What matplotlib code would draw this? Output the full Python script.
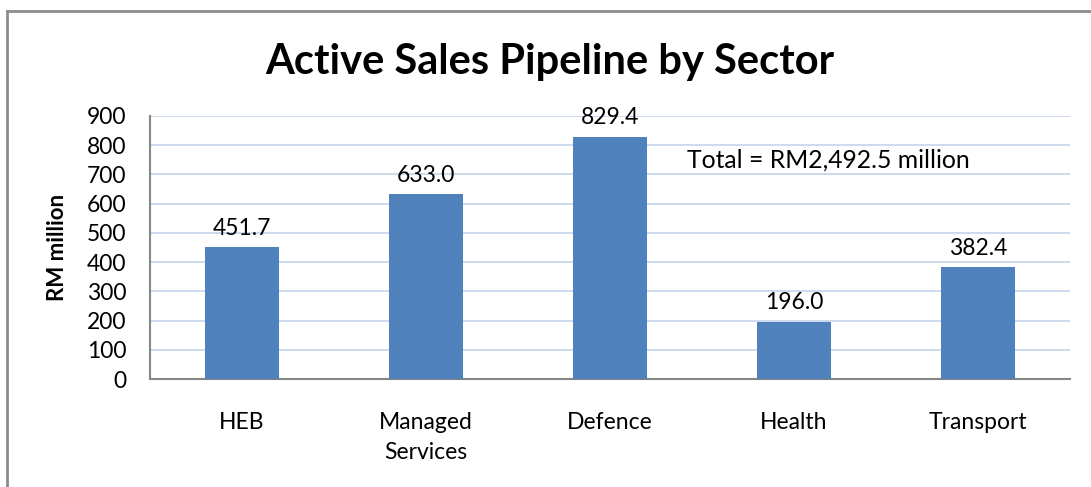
import numpy as np
import matplotlib.pyplot as plt
from matplotlib.lines import Line2D

# Chart data
sectors = ['HEB', 'Managed\nServices', 'Defence', 'Health', 'Transport']
pipeline = [451.7, 633.0, 829.4, 196.0, 382.4]
yticks = [0, 100, 200, 300, 400, 500, 600, 700, 800, 900]
total_text = 'Total = RM2,492.5 million'

plt.rcParams['font.family'] = ['Lato', 'DejaVu Sans']

W, H = 1091, 487
fig = plt.figure(figsize=(W / 100, H / 100), dpi=100)
ax = fig.add_axes([150 / W, 1 - 379 / H, 920 / W, 263 / H])

x = np.arange(len(sectors))
ax.bar(x, pipeline, width=0.4, color='#4F81BD', zorder=3)

# Value labels above bars
for xi, v in zip(x, pipeline):
    ax.annotate('{:.1f}'.format(v), (xi, v), xytext=(0, 6), textcoords='offset points',
                ha='center', va='bottom', fontsize=16.5, color='black')

ax.text(2.42, 750, total_text, ha='left', va='center', fontsize=17.8, color='black')

ax.set_xlim(-0.5, len(sectors) - 0.5)
ax.set_ylim(0, 900)
ax.set_yticks(yticks)
ax.set_xticks(x)
ax.set_xticklabels(sectors, fontsize=16.5, linespacing=1.5)
ax.tick_params(axis='y', labelsize=16.5, length=0, pad=17)
ax.tick_params(axis='x', length=0, pad=24)
ax.grid(axis='y', color='#C5D3EA', linewidth=1.2, zorder=0)

for s in ['top', 'right']:
    ax.spines[s].set_visible(False)
for s in ['left', 'bottom']:
    ax.spines[s].set_color('#868686')
    ax.spines[s].set_linewidth(1.5)

ax.set_ylabel('RM million', fontsize=16, fontweight='bold')
ax.yaxis.set_label_coords(-(150 - 68) / 920, 0.5)

fig.text(550 / W, 1 - 62 / H, 'Active Sales Pipeline by Sector', ha='center', va='center',
         fontsize=30, fontweight='bold')

# Outer chart border (top and left visible)
fig.add_artist(Line2D([7 / W, 1], [1 - 11 / H, 1 - 11 / H], transform=fig.transFigure,
                      color='#8C8C8C', linewidth=2))
fig.add_artist(Line2D([7 / W, 7 / W], [0, 1 - 11 / H], transform=fig.transFigure,
                      color='#8C8C8C', linewidth=2))

fig.savefig('out.png', dpi=100)
